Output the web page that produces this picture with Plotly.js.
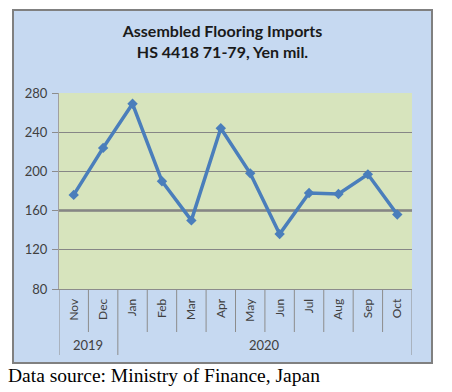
<!DOCTYPE html>
<html><head><meta charset="utf-8">
<script src="https://cdn.plot.ly/plotly-3.0.1.min.js"></script>
<style>html,body{margin:0;padding:0;background:#fff}#c{width:452px;height:392px}</style>
</head><body><div id="c"></div>
<script>
const months = ['Nov','Dec','Jan','Feb','Mar','Apr','May','Jun','Jul','Aug','Sep','Oct'];
const imports = [176, 224, 269, 190, 150, 244, 198, 136, 178, 177, 197, 156];
const years = ['2019', '2020'];
const yearStart = [0, 2];   // index of first month in each year
const yTicks = [80, 120, 160, 200, 240, 280];
const refLine = 160;
const titleText = '<b>Assembled Flooring Imports</b><br><b>HS 4418 71-79, Yen mil.</b>';
const sourceText = 'Data source: Ministry of Finance, Japan';

// layout geometry (pixels)
const Wd = 452, Ht = 392;
const L = 59, R = 412, T = 93, B = 289;
const PW = R - L, PH = B - T;
const px = x => (x - L) / PW;
const py = y => (B - y) / PH;

const shapes = [];
// outer chart box
shapes.push({type:'rect', xref:'paper', yref:'paper', x0:px(13), x1:px(432), y0:py(363), y1:py(10),
  fillcolor:'#C6D9F1', line:{color:'#808080', width:2}, layer:'below'});
// plot area fill
shapes.push({type:'rect', xref:'paper', yref:'paper', x0:0, x1:1, y0:0, y1:1,
  fillcolor:'#D7E4BD', line:{width:0}, layer:'below'});
// category dividers
for (let i = 0; i <= months.length; i++) {
  const long = (i === months.length) || yearStart.includes(i);
  shapes.push({type:'line', xref:'x', yref:'paper', x0:i-0.5, x1:i-0.5, y0:0, y1:py(long ? 355 : 332),
    line:{color:'#8c8c8c', width:1}});
}
// reference line
shapes.push({type:'line', xref:'paper', yref:'y', x0:0, x1:1, y0:refLine, y1:refLine,
  line:{color:'#7f7f7f', width:2.5}, layer:'below'});

const annotations = [];
yearStart.forEach((s, k) => {
  const e = (k + 1 < yearStart.length ? yearStart[k+1] : months.length) - 1;
  annotations.push({xref:'x', yref:'paper', x:(s+e)/2, y:py(345), text:years[k], showarrow:false,
    font:{family:'Lato', size:13, color:'#404040'}, xanchor:'center', yanchor:'middle'});
});
annotations.push({xref:'paper', yref:'paper', x:px(6), y:py(375), text:sourceText, showarrow:false,
  xanchor:'left', yanchor:'middle', font:{family:'Liberation Serif', size:19.5, color:'#000'}});

const trace = {
  x: months, y: imports, type:'scatter', mode:'lines+markers',
  line:{color:'#4A7EBB', width:3.5},
  marker:{symbol:'diamond', size:8, color:'#4A7EBB'},
  hoverinfo:'skip'
};

const layout = {
  width:Wd, height:Ht,
  margin:{l:L, r:Wd-R, t:T, b:Ht-B, pad:0},
  paper_bgcolor:'#ffffff', plot_bgcolor:'#D7E4BD',
  showlegend:false,
  title:{text:titleText, xref:'container', yref:'container', x:222.5/Wd, y:1-37/Ht,
    xanchor:'center', yanchor:'top', font:{family:'Lato', size:16, color:'#1a1a1a'}},
  xaxis:{type:'category', categoryorder:'array', categoryarray:months, range:[-0.5, months.length-0.5],
    tickangle:-90, ticks:'', showgrid:false, showline:true, linecolor:'#8c8c8c', linewidth:1,
    tickfont:{family:'Lato', size:12, color:'#404040'}, ticklabelstandoff:4},
  yaxis:{range:[yTicks[0], yTicks[yTicks.length-1]], tickvals:yTicks, ticks:'outside', ticklen:6,
    tickcolor:'#8c8c8c', showgrid:true, gridcolor:'#868686', gridwidth:1, zeroline:false,
    showline:true, linecolor:'#a0a0a0', linewidth:1,
    tickfont:{family:'Lato', size:13, color:'#404040'}, ticklabelstandoff:2},
  shapes:shapes, annotations:annotations
};
Plotly.newPlot('c', [trace], layout, {displayModeBar:false, staticPlot:true});
</script></body></html>
